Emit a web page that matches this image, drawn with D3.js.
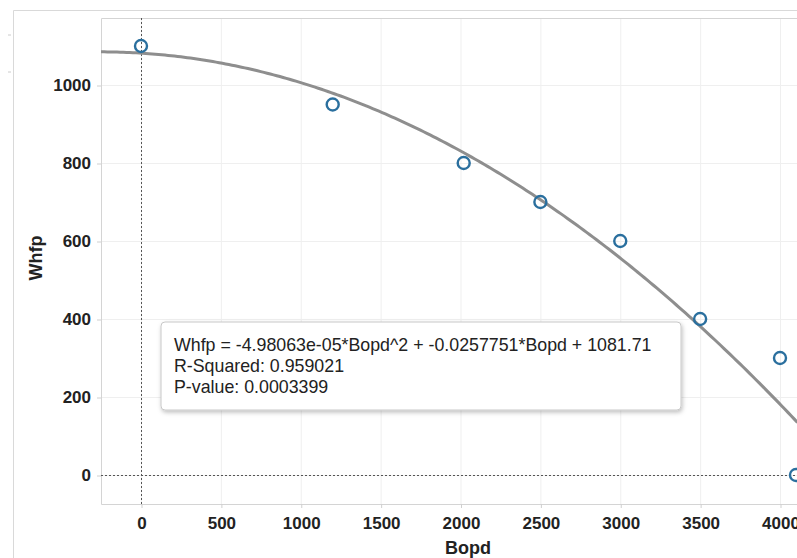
<!DOCTYPE html>
<html>
<head>
<meta charset="utf-8">
<script src="https://cdn.jsdelivr.net/npm/d3@7"></script>
<style>
  body { margin: 0; background: #fff; }
  svg { display: block; }
  svg text { font-family: "Liberation Sans", Arial, sans-serif; }
</style>
</head>
<body>
<svg id="chart"></svg>
<script>
// observed points
const bopd = [0, 1200, 2020, 2500, 3000, 3500, 4000, 4100];
const whfp = [1100, 950, 800, 700, 600, 400, 300, 0];

// trend model: a*x^2 + b*x + c
const coef = [-4.98063e-05, -0.0257751, 1081.71];
const trendText = [
  "Whfp = -4.98063e-05*Bopd^2 + -0.0257751*Bopd + 1081.71",
  "R-Squared: 0.959021",
  "P-value: 0.0003399"
];

const xTicks = [0, 500, 1000, 1500, 2000, 2500, 3000, 3500, 4000];
const yTicks = [0, 200, 400, 600, 800, 1000];

const W = 797, H = 558;
const plot = {left: 101, top: 18, right: 797, bottom: 504};

const svg = d3.select("#chart").attr("width", W).attr("height", H);

const x = d3.scaleLinear().domain([0, 4000]).range([141, 780]);
const y = d3.scaleLinear().domain([0, 1000]).range([475, 85]);

// outer frame
svg.append("path")
    .attr("d", `M13.5,${H} V10.5 H${W}`)
    .attr("fill", "none")
    .attr("stroke", "#d9d9d9");
svg.append("line").attr("x1", 8).attr("x2", 11).attr("y1", 35).attr("y2", 35).attr("stroke", "#ccc");
svg.append("line").attr("x1", 8).attr("x2", 11).attr("y1", 72).attr("y2", 72).attr("stroke", "#ccc");

// grid
const g = svg.append("g");
g.selectAll("line.gx").data(xTicks).enter().append("line")
    .attr("x1", d => x(d) + 0.5).attr("x2", d => x(d) + 0.5)
    .attr("y1", plot.top).attr("y2", plot.bottom)
    .attr("stroke", "#efefef");
g.selectAll("line.gy").data(yTicks).enter().append("line")
    .attr("x1", plot.left).attr("x2", plot.right)
    .attr("y1", d => y(d) + 0.5).attr("y2", d => y(d) + 0.5)
    .attr("stroke", "#efefef");

// plot border
svg.append("path")
    .attr("d", `M${W},${plot.top + 0.5} H${plot.left + 0.5} V${plot.bottom + 0.5} H${W}`)
    .attr("fill", "none")
    .attr("stroke", "#d4d4d4");

// axes
const yAxis = svg.append("g")
    .attr("transform", `translate(${plot.left},0.5)`)
    .call(d3.axisLeft(y).tickValues(yTicks).tickSize(4).tickPadding(6).tickFormat(d3.format("d")));
const xAxis = svg.append("g")
    .attr("transform", `translate(0.5,${plot.bottom})`)
    .call(d3.axisBottom(x).tickValues(xTicks).tickSize(4).tickPadding(9).tickFormat(d3.format("d")));
[yAxis, xAxis].forEach(a => {
  a.select(".domain").remove();
  a.selectAll(".tick line").attr("stroke", "#cfcfcf");
  a.selectAll(".tick text")
      .attr("fill", "#222")
      .style("font-family", "'Liberation Sans', Arial, sans-serif")
      .style("font-size", "17px")
      .style("font-weight", "bold");
});

// axis titles
svg.append("text")
    .attr("x", 468).attr("y", 554)
    .attr("text-anchor", "middle")
    .style("font-size", "18px").style("font-weight", "bold").attr("fill", "#222")
    .text("Bopd");
svg.append("text")
    .attr("transform", "translate(42,258) rotate(-90)")
    .attr("text-anchor", "middle")
    .style("font-size", "18px").style("font-weight", "bold").attr("fill", "#222")
    .text("Whfp");

// zero reference lines
svg.append("line")
    .attr("x1", x(0) + 0.5).attr("x2", x(0) + 0.5)
    .attr("y1", plot.top).attr("y2", plot.bottom)
    .attr("stroke", "#555").attr("stroke-dasharray", "2,2");
svg.append("line")
    .attr("x1", plot.left).attr("x2", plot.right)
    .attr("y1", y(0) + 0.5).attr("y2", y(0) + 0.5)
    .attr("stroke", "#555").attr("stroke-dasharray", "2,2");

// trend curve
svg.append("clipPath").attr("id", "clip")
  .append("rect")
    .attr("x", plot.left).attr("y", plot.top)
    .attr("width", plot.right - plot.left).attr("height", plot.bottom - plot.top);
const xs = d3.range(x.invert(plot.left), x.invert(plot.right) + 10, 20);
const trend = v => coef[0] * v * v + coef[1] * v + coef[2];
svg.append("path")
    .datum(xs)
    .attr("clip-path", "url(#clip)")
    .attr("fill", "none")
    .attr("stroke", "#8e8e8e")
    .attr("stroke-width", 3)
    .attr("d", d3.line().x(d => x(d)).y(d => y(trend(d))).curve(d3.curveBasis));

// points
svg.append("g")
  .selectAll("circle")
  .data(bopd.map((b, i) => ({b, w: whfp[i]})))
  .enter().append("circle")
    .attr("cx", d => x(d.b))
    .attr("cy", d => y(d.w))
    .attr("r", 6)
    .attr("fill", "none")
    .attr("stroke", "#2a6f9e")
    .attr("stroke-width", 2.4);

// trend tooltip
const defs = svg.append("defs");
const f = defs.append("filter").attr("id", "shadow").attr("x", "-10%").attr("y", "-20%").attr("width", "120%").attr("height", "150%");
f.append("feDropShadow").attr("dx", 1).attr("dy", 2).attr("stdDeviation", 2).attr("flood-color", "#000").attr("flood-opacity", 0.25);
const tip = svg.append("g").attr("transform", "translate(161,322)");
tip.append("rect")
    .attr("width", 520).attr("height", 88)
    .attr("rx", 4)
    .attr("fill", "#fff")
    .attr("stroke", "#c8c8c8")
    .attr("filter", "url(#shadow)");
tip.selectAll("text")
  .data(trendText)
  .enter().append("text")
    .attr("x", 13)
    .attr("y", (d, i) => 29 + i * 21)
    .attr("fill", "#222")
    .style("font-size", "17.8px")
    .text(d => d);
</script>
</body>
</html>
